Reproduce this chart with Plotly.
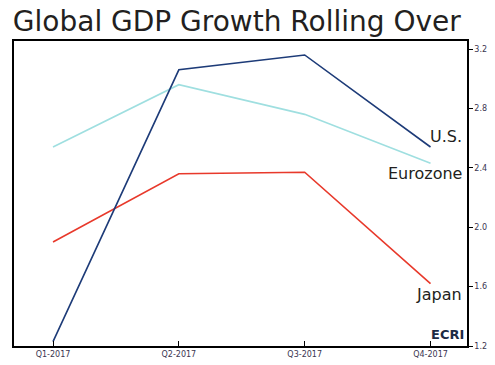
import plotly.graph_objects as go

quarters = ["Q1-2017", "Q2-2017", "Q3-2017", "Q4-2017"]
us = [1.23, 3.06, 3.16, 2.54]
eurozone = [2.54, 2.96, 2.76, 2.43]
japan = [1.90, 2.36, 2.37, 1.62]
y_ticks = [1.2, 1.6, 2.0, 2.4, 2.8, 3.2]
y_tick_text = ["1.2", "1.6", "2.0", "2.4", "2.8", "3.2"]

FONT = "DejaVu Sans"
fig = go.Figure()
x = list(range(len(quarters)))
fig.add_trace(go.Scatter(x=x, y=eurozone, mode="lines", line=dict(color="#9fdfe0", width=1.6), name="Eurozone"))
fig.add_trace(go.Scatter(x=x, y=japan, mode="lines", line=dict(color="#e8392b", width=1.6), name="Japan"))
fig.add_trace(go.Scatter(x=x, y=us, mode="lines", line=dict(color="#1d3b78", width=1.6), name="U.S."))

annots = [
    dict(x=3.265, y=us[3] + 0.07, text="U.S.", xanchor="right", yanchor="middle"),
    dict(x=3.265, y=eurozone[3] - 0.07, text="Eurozone", xanchor="right", yanchor="middle"),
    dict(x=3.265, y=japan[3] - 0.07, text="Japan", xanchor="right", yanchor="middle"),
]
for a in annots:
    fig.add_annotation(xref="x", yref="y", showarrow=False,
                       font=dict(family=FONT, size=16, color="#231f20"), **a)
fig.add_annotation(xref="x", yref="y", x=3.285, y=1.28, text="<b>ECRI</b>", showarrow=False,
                   xanchor="right", yanchor="middle",
                   font=dict(family=FONT, size=13, color="#1c2a44"))

fig.update_layout(
    width=495, height=365,
    margin=dict(l=14, r=28, t=41, b=19),
    paper_bgcolor="white", plot_bgcolor="white",
    showlegend=False,
    title=dict(text="Global GDP Growth Rolling Over", x=0.026, xanchor="left", y=0.97, yanchor="top",
               font=dict(family=FONT, size=28, color="#231f20")),
    xaxis=dict(range=[-0.31, 3.29], tickvals=x, ticktext=quarters, showgrid=False, zeroline=False,
               showline=True, linecolor="#000", linewidth=1.5, mirror=True, automargin=False,
               ticks="inside", ticklen=5, tickcolor="#000",
               tickfont=dict(family=FONT, size=8, color="#3a3550")),
    yaxis=dict(range=[1.2, 3.254], side="right", tickvals=y_ticks, ticktext=y_tick_text,
               showgrid=False, zeroline=False, showline=True, linecolor="#000", linewidth=1.5,
               mirror=True, ticks="outside", ticklen=4, tickcolor="#000", automargin=False,
               tickfont=dict(family=FONT, size=8, color="#3a3550")),
)
fig.write_html("out.html", config={"displayModeBar": False},
               post_script="document.body.style.margin='0';")
